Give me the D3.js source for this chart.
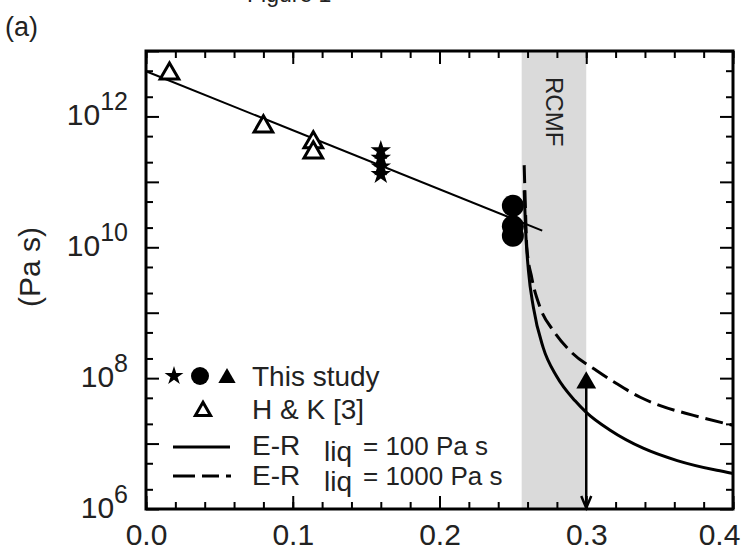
<!DOCTYPE html>
<html>
<head>
<meta charset="utf-8">
<script src="https://cdn.jsdelivr.net/npm/d3@7"></script>
<style>
  body { margin: 0; background: #fff; overflow: hidden; }
  svg { display: block; font-family: "Liberation Sans", Arial, sans-serif; }
</style>
</head>
<body>
<script>
// ---- data ----
const xTicks = [0, 0.1, 0.2, 0.3, 0.4];
const xTickLabels = ["0.0", "0.1", "0.2", "0.3", "0.4"];
const yLabelExps = [6, 8, 10, 12];

// H & K [3] (open triangles)
const hkX = [0.016, 0.08, 0.114, 0.114];
const hkEta = [4.5e12, 7.0e11, 4.0e11, 2.8e11];

// This study
const starX = [0.16, 0.16, 0.16, 0.16];
const starEta = [3.0e11, 2.3e11, 1.7e11, 1.3e11];
const circleX = [0.25, 0.25, 0.25];
const circleEta = [4.3e10, 2.1e10, 1.5e10];
const triX = [0.3];
const triEta = [8.5e7];

// fit through the solid-state data
const fitX = [0, 0.27];
const fitEta = [4.9e12, 1.8e10];

// RCMF band
const rcmf = [0.256, 0.3];

// Einstein-Roscoe, eta_liq = 100 Pa s
const er100X = [0.2577, 0.2587, 0.2606, 0.264, 0.2706, 0.28, 0.2924, 0.3, 0.3163, 0.3388, 0.362, 0.389, 0.4];
const er100Eta = [7.4e10, 1.8e10, 4.4e9, 1.2e9, 2.95e8, 1.05e8, 4.5e7, 3.0e7, 1.6e7, 8.5e6, 5.5e6, 3.9e6, 3.5e6];

// Einstein-Roscoe, eta_liq = 1000 Pa s
const er1000X = [0.2577, 0.2584, 0.2595, 0.2629, 0.2686, 0.2776, 0.2902, 0.3072, 0.3209, 0.3368, 0.3504, 0.3731, 0.4];
const er1000Eta = [1.8e11, 5.2e10, 1.0e10, 3.4e9, 1.2e9, 5.3e8, 2.45e8, 1.3e8, 8.2e7, 5.1e7, 3.8e7, 2.7e7, 1.9e7];

// ---- layout ----
const width = 746, height = 551;
const pLeft = 146, pRight = 733, pTop = 51, pBottom = 509;

const svg = d3.select("body")
    .append("svg")
    .attr("width", width)
    .attr("height", height);

const x = d3.scaleLinear().domain([0, 0.4]).range([pLeft, pRight]);
const y = d3.scaleLog().domain([1e6, 1e13]).range([pBottom, pTop]);

// RCMF band
svg.append("rect")
    .attr("x", x(rcmf[0]))
    .attr("y", pTop)
    .attr("width", x(rcmf[1]) - x(rcmf[0]))
    .attr("height", pBottom - pTop)
    .attr("fill", "#dadada");

svg.append("text")
    .attr("transform", `translate(${(x(rcmf[0]) + x(rcmf[1])) / 2 - 8}, 77) rotate(90)`)
    .attr("font-size", 24)
    .attr("fill", "#222")
    .text("RCMF");

// fit line
const line = d3.line().x(d => x(d[0])).y(d => y(d[1]));
svg.append("path")
    .datum(d3.zip(fitX, fitEta))
    .attr("fill", "none")
    .attr("stroke", "#000")
    .attr("stroke-width", 2)
    .attr("d", line);

// E-R curves
const curve = d3.line().x(d => x(d[0])).y(d => y(d[1])).curve(d3.curveMonotoneX);
svg.append("path")
    .datum(d3.zip(er1000X, er1000Eta))
    .attr("fill", "none")
    .attr("stroke", "#000")
    .attr("stroke-width", 3)
    .attr("stroke-dasharray", "18,7")
    .attr("d", curve);

svg.append("path")
    .datum(d3.zip(er100X, er100Eta))
    .attr("fill", "none")
    .attr("stroke", "#000")
    .attr("stroke-width", 3)
    .attr("d", curve);

// arrow from triangle down to the axis
svg.append("line")
    .attr("x1", x(triX[0])).attr("x2", x(triX[0]))
    .attr("y1", y(triEta[0])).attr("y2", pBottom - 1)
    .attr("stroke", "#000").attr("stroke-width", 2.5);
svg.append("path")
    .attr("d", `M${x(triX[0]) - 5},${pBottom - 13}L${x(triX[0])},${pBottom - 1}L${x(triX[0]) + 5},${pBottom - 13}`)
    .attr("fill", "none").attr("stroke", "#000").attr("stroke-width", 2.5);

// markers
const tri = d3.symbol().type(d3.symbolTriangle);
const star = d3.symbol().type(d3.symbolStar).size(130);

svg.selectAll(".hk")
    .data(d3.zip(hkX, hkEta))
    .enter()
    .append("path")
    .attr("class", "hk")
    .attr("transform", d => `translate(${x(d[0])},${y(d[1])})`)
    .attr("d", tri.size(150)())
    .attr("fill", "#fff")
    .attr("stroke", "#000")
    .attr("stroke-width", 3);

svg.selectAll(".star")
    .data(d3.zip(starX, starEta))
    .enter()
    .append("path")
    .attr("class", "star")
    .attr("transform", d => `translate(${x(d[0])},${y(d[1])})`)
    .attr("d", star())
    .attr("fill", "#000");

svg.selectAll(".dot")
    .data(d3.zip(circleX, circleEta))
    .enter()
    .append("circle")
    .attr("class", "dot")
    .attr("cx", d => x(d[0]))
    .attr("cy", d => y(d[1]))
    .attr("r", 11)
    .attr("fill", "#000");

svg.selectAll(".tri")
    .data(d3.zip(triX, triEta))
    .enter()
    .append("path")
    .attr("class", "tri")
    .attr("transform", d => `translate(${x(d[0])},${y(d[1])})`)
    .attr("d", tri.size(170)())
    .attr("fill", "#000");

// axes: ticks inward on all four sides
const yMinor = [];
for (let e = 6; e < 13; e++) { yMinor.push(2 * 10 ** e, 5 * 10 ** e); }
const yMajor = d3.range(6, 14).map(e => 10 ** e);
const xMinor = d3.range(0, 21).map(i => i * 0.02);

function tickLayer(axis, transform) {
    const g = svg.append("g").attr("transform", transform).call(axis);
    g.select(".domain").remove();
    g.selectAll("line").attr("stroke", "#000").attr("stroke-width", 2);
    return g;
}

tickLayer(d3.axisBottom(x).tickValues(xMinor).tickSize(-7).tickFormat(""), `translate(0,${pBottom})`);
tickLayer(d3.axisTop(x).tickValues(xMinor).tickSize(-7).tickFormat(""), `translate(0,${pTop})`);
tickLayer(d3.axisTop(x).tickValues(xTicks).tickSize(-13).tickFormat(""), `translate(0,${pTop})`);
const xAxis = tickLayer(
    d3.axisBottom(x).tickValues(xTicks).tickSize(-13).tickFormat((d, i) => xTickLabels[i]),
    `translate(0,${pBottom})`);
xAxis.selectAll("text")
    .attr("y", 36).attr("dy", 0)
    .attr("dx", (d, i) => i === xTicks.length - 1 ? -14 : 0)
    .attr("font-size", 30)
    .attr("font-family", "Liberation Sans, Arial, sans-serif")
    .attr("fill", "#222");

tickLayer(d3.axisLeft(y).tickValues(yMinor).tickSize(-7).tickFormat(""), `translate(${pLeft},0)`);
tickLayer(d3.axisLeft(y).tickValues(yMajor).tickSize(-13).tickFormat(""), `translate(${pLeft},0)`);
tickLayer(d3.axisRight(y).tickValues(yMinor).tickSize(-7).tickFormat(""), `translate(${pRight},0)`);
tickLayer(d3.axisRight(y).tickValues(yMajor).tickSize(-13).tickFormat(""), `translate(${pRight},0)`);

// y tick labels 10^n
const yLab = svg.selectAll(".ylab")
    .data(yLabelExps)
    .enter()
    .append("text")
    .attr("class", "ylab")
    .attr("x", 128)
    .attr("y", d => y(10 ** d) + 9)
    .attr("text-anchor", "end")
    .attr("font-size", 30)
    .attr("fill", "#222");
yLab.append("tspan").text("10");
yLab.append("tspan").attr("dy", -15).attr("font-size", 25).text(d => d);

// frame
svg.append("rect")
    .attr("x", pLeft).attr("y", pTop)
    .attr("width", pRight - pLeft).attr("height", pBottom - pTop)
    .attr("fill", "none").attr("stroke", "#000").attr("stroke-width", 3);

// axis title
svg.append("text")
    .attr("transform", "translate(40,267) rotate(-90)")
    .attr("text-anchor", "middle")
    .attr("font-size", 30)
    .attr("fill", "#222")
    .text("(Pa s)");

// panel label and header (header is cut by the top edge, as in the source)
svg.append("text").attr("x", 5).attr("y", 36).attr("font-size", 27).attr("fill", "#222").text("(a)");
svg.append("text").attr("x", 247).attr("y", 2).attr("font-size", 23).attr("fill", "#222").text("Figure 1");

// legend
const leg = svg.append("g");
leg.append("path").attr("transform", "translate(174,376)").attr("d", d3.symbol().type(d3.symbolStar).size(110)()).attr("fill", "#000");
leg.append("circle").attr("cx", 200).attr("cy", 376).attr("r", 9).attr("fill", "#000");
leg.append("path").attr("transform", "translate(227,378)").attr("d", tri.size(130)()).attr("fill", "#000");
leg.append("path").attr("transform", "translate(203,411)").attr("d", tri.size(100)())
    .attr("fill", "#fff").attr("stroke", "#000").attr("stroke-width", 3);
leg.append("line").attr("x1", 173).attr("x2", 230).attr("y1", 447).attr("y2", 447)
    .attr("stroke", "#000").attr("stroke-width", 3);
leg.append("line").attr("x1", 173).attr("x2", 231).attr("y1", 476).attr("y2", 476)
    .attr("stroke", "#000").attr("stroke-width", 3).attr("stroke-dasharray", "22,7,17,7,5,100");

const legText = [
    { x: 252, y: 386, s: 28, t: "This study" },
    { x: 252, y: 419, s: 28, t: "H & K [3]" },
    { x: 252, y: 455, s: 28, t: "E-R" },
    { x: 324, y: 461, s: 28, t: "liq" },
    { x: 363, y: 455, s: 26, t: "= 100 Pa s" },
    { x: 252, y: 485, s: 28, t: "E-R" },
    { x: 324, y: 491, s: 28, t: "liq" },
    { x: 363, y: 485, s: 26, t: "= 1000 Pa s" }
];
leg.selectAll("text")
    .data(legText)
    .enter()
    .append("text")
    .attr("x", d => d.x)
    .attr("y", d => d.y)
    .attr("font-size", d => d.s)
    .attr("fill", "#222")
    .text(d => d.t);
</script>
</body>
</html>
